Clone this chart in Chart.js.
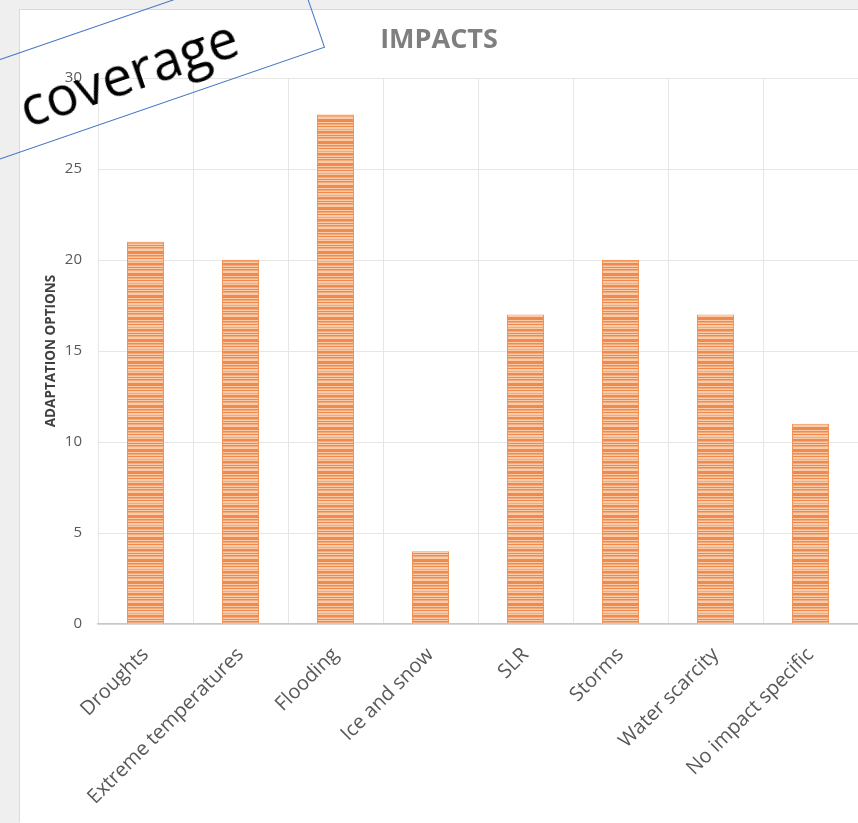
<!DOCTYPE html>
<html>
<head>
<meta charset="utf-8">
<script src="https://cdn.jsdelivr.net/npm/chart.js@4"></script>
<style>
    html, body { margin: 0; padding: 0; width: 858px; height: 823px; overflow: hidden; background: #efefef; }
    #marco { position: absolute; left: 20px; top: 10px; width: 850px; height: 813px; background: #fff; box-shadow: -1px -1px 0 #dadada; }
    #grafico { position: absolute; left: 0; top: 0; }
    #nota {
        position: absolute; left: -60px; top: 17px; width: 380px; height: 95px;
        border: 1.5px solid #4472c4; box-sizing: border-box;
        transform: rotate(-19deg);
        font-family: "Open Sans", sans-serif; font-size: 54px; color: #000;
        display: flex; align-items: center; justify-content: center;
        padding-top: 10px; padding-right: 8px;
        line-height: 1;
    }
</style>
</head>
<body>
<div id="marco">
    <canvas id="grafico" width="850" height="813"></canvas>
</div>
<div id="nota">coverage</div>
<script>
const impactos = [
    "Droughts",
    "Extreme temperatures",
    "Flooding",
    "Ice and snow",
    "SLR",
    "Storms",
    "Water scarcity",
    "No impact specific",
];
const opciones = [21, 20, 28, 4, 17, 20, 17, 11];
const ticksY = [0, 5, 10, 15, 20, 25, 30];

const fuente = "'Open Sans', sans-serif";
const colorTexto = "#595959";
const colorGrilla = "#e6e6e6";

// franjas horizontales como en el original
function patronRayas() {
    const c = document.createElement("canvas");
    const filas = ["o", "o", "c", "o", "m", "c", "o", "c", "c", "m", "c", "o", "o", "m", "c", "o", "c", "o", "m", "c", "c", "o"];
    c.width = 8;
    c.height = filas.length;
    const ctx = c.getContext("2d");
    const tonos = { o: "#ef8a4c", c: "#f8cbab", m: "#f4ab7a" };
    filas.forEach((f, i) => {
        ctx.fillStyle = tonos[f];
        ctx.fillRect(0, i, 8, 1);
    });
    return ctx.createPattern(c, "repeat");
}

new Chart(document.getElementById("grafico"), {
    type: "bar",
    data: {
        labels: impactos,
        datasets: [
            {
                label: "Adaptation options",
                data: opciones,
                backgroundColor: patronRayas(),
                borderColor: "#f09357",
                borderWidth: 1,
                categoryPercentage: 1,
                barPercentage: 0.39,
            },
        ],
    },
    options: {
        responsive: false,
        animation: false,
        layout: { padding: { left: 0, right: 12, top: 0, bottom: 0 } },
        scales: {
            x: {
                grid: { color: colorGrilla, drawTicks: false, offset: true },
                border: { color: "#c8c8c8", width: 1.5 },
                ticks: {
                    autoSkip: false,
                    minRotation: 45,
                    maxRotation: 45,
                    padding: 19,
                    font: { family: fuente, size: 20 },
                    color: colorTexto,
                },
                afterFit: (s) => { s.height = 199; },
            },
            y: {
                min: 0,
                max: 30,
                afterBuildTicks: (s) => { s.ticks = ticksY.map((v) => ({ value: v })); },
                grid: { color: colorGrilla, drawTicks: false },
                border: { display: false },
                ticks: {
                    padding: 16,
                    font: { family: fuente, size: 15 },
                    color: colorTexto,
                },
                title: {
                    display: true,
                    text: "ADAPTATION OPTIONS",
                    color: "#404040",
                    font: { family: fuente, size: 13.5, weight: "bold" },
                    padding: { top: 23, bottom: 0 },
                },
                afterFit: (s) => { s.width = 78; },
            },
        },
        plugins: {
            legend: { display: false },
            tooltip: { enabled: false },
            title: {
                display: true,
                text: "IMPACTS",
                color: "#7f7f7f",
                font: { family: fuente, size: 27, weight: "bold" },
                padding: { top: 14, bottom: 21.6 },
            },
        },
    },
});
</script>
</body>
</html>
